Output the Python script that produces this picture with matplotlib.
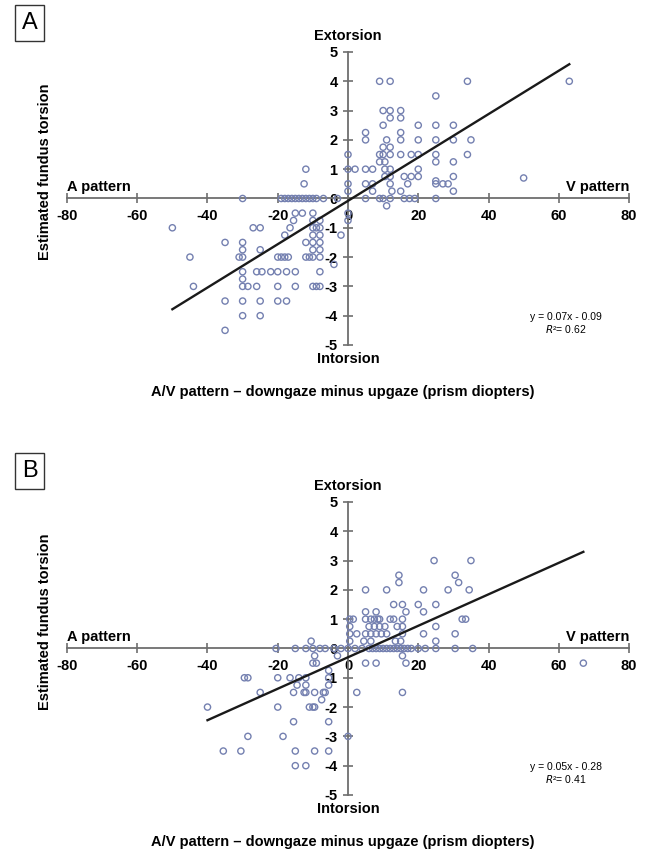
import numpy as np
import matplotlib
matplotlib.use("Agg")
import matplotlib.pyplot as plt

plt.rcParams['font.family'] = ['Liberation Sans', 'DejaVu Sans']
plt.rcParams['axes.unicode_minus'] = False

# ============================================================
# Data
# ============================================================
# Panel A: (A/V pattern, estimated fundus torsion)
a_x = [9, 12, 34, 63,
       25,
       10, 12, 15,
       12, 15,
       10, 20, 25, 30,
       5, 15,
       5, 11, 15, 20, 25, 30, 35,
       10, 12,
       0, 9, 10, 12, 15, 18, 20, 25, 34,
       9, 10.5, 25, 30,
       0, 2, 5, 7, 10.5, 12, 20,
       10.5, 12, 16, 18, 20, 30,
       50, 25,
       0, 5, 7, 12, 17, 25, 27, 28.5,
       0, 7, 12.5, 15, 30,
       -30, -19, -18, -17, -16, -15, -14, -13, -12, -11, -10, -9, -7, -3,
       5, 9, 10, 12, 16, 17.5, 19, 25,
       11, -12, -12.5,
       -15, -10, 0, -13,
       -15.5, -10, -8, 0,
       -50, -27, -25, -16.5, -10, -9, -8,
       -18, -2, -10, -8,
       -35, -30, -10, -8, -12,
       -30, -25, -10, -8,
       -45, -31, -30, -20, -19, -18, -17, -12, -11, -10, -8,
       -4,
       -30, -26, -24.5, -22, -20, -17.5, -15, -8,
       -30,
       -44, -30, -28.5, -26, -20, -15, -10, -9, -8,
       -35, -30, -25, -20, -17.5,
       -30, -25,
       -35]
a_y = [4, 4, 4, 4,
       3.5,
       3, 3, 3,
       2.75, 2.75,
       2.5, 2.5, 2.5, 2.5,
       2.25, 2.25,
       2, 2, 2, 2, 2, 2, 2,
       1.75, 1.75,
       1.5, 1.5, 1.5, 1.5, 1.5, 1.5, 1.5, 1.5, 1.5,
       1.25, 1.25, 1.25, 1.25,
       1, 1, 1, 1, 1, 1, 1,
       0.75, 0.75, 0.75, 0.75, 0.75, 0.75,
       0.7, 0.6,
       0.5, 0.5, 0.5, 0.5, 0.5, 0.5, 0.5, 0.5,
       0.25, 0.25, 0.25, 0.25, 0.25,
       0, 0, 0, 0, 0, 0, 0, 0, 0, 0, 0, 0, 0, 0,
       0, 0, 0, 0, 0, 0, 0, 0,
       -0.25, 1, 0.5,
       -0.5, -0.5, -0.5, -0.5,
       -0.75, -0.75, -0.75, -0.75,
       -1, -1, -1, -1, -1, -1, -1,
       -1.25, -1.25, -1.25, -1.25,
       -1.5, -1.5, -1.5, -1.5, -1.5,
       -1.75, -1.75, -1.75, -1.75,
       -2, -2, -2, -2, -2, -2, -2, -2, -2, -2, -2,
       -2.25,
       -2.5, -2.5, -2.5, -2.5, -2.5, -2.5, -2.5, -2.5,
       -2.75,
       -3, -3, -3, -3, -3, -3, -3, -3, -3,
       -3.5, -3.5, -3.5, -3.5, -3.5,
       -4, -4,
       -4.5]

# Panel B
b_x = [24.5, 35,
       14.5, 30.5,
       14.5, 31.5,
       5, 11, 21.5, 28.5, 34.5,
       13, 15.5, 20, 25,
       5, 8, 16.5, 21.5,
       0.5, 1.5, 5, 6.5, 7.5, 8.5, 9, 12, 13, 15.5, 32.5, 33.5,
       0.5, 6, 7.5, 9, 10.5, 14, 15.5, 25,
       0.5, 2.5, 5, 6.5, 8, 9.5, 11, 15.5, 21.5, 30.5,
       0.5, 4.5, 6.5, 13.5, 15, 25,
       -20.5, -15, -12, -10, -8, -6.5, -4, -2, 0, 2, 4, 6, 7, 8, 9, 10,
       11, 12, 13, 14, 15, 16, 17, 18, 20, 22, 25, 30.5, 35.5,
       -10.5,
       -9.5, -3, 15.5,
       -9, -10, 5, 8, 16.5, 67,
       -5.5,
       -29.5, -28.5, -20, -16.5, -14, -12, -5.5,
       -14.5, -12, -5.5,
       -25, -15.5, -12.5, -12, -9.5, -7, -6.5, 2.5, 15.5,
       -7.5,
       -40, -20, -11, -10, -9.5,
       -15.5, -5.5,
       -28.5, -18.5, 0,
       -35.5, -30.5, -15, -9.5, -5.5,
       -15, -12]
b_y = [3, 3,
       2.5, 2.5,
       2.25, 2.25,
       2, 2, 2, 2, 2,
       1.5, 1.5, 1.5, 1.5,
       1.25, 1.25, 1.25, 1.25,
       1, 1, 1, 1, 1, 1, 1, 1, 1, 1, 1, 1,
       0.75, 0.75, 0.75, 0.75, 0.75, 0.75, 0.75, 0.75,
       0.5, 0.5, 0.5, 0.5, 0.5, 0.5, 0.5, 0.5, 0.5, 0.5,
       0.25, 0.25, 0.25, 0.25, 0.25, 0.25,
       0, 0, 0, 0, 0, 0, 0, 0, 0, 0, 0, 0, 0, 0, 0, 0,
       0, 0, 0, 0, 0, 0, 0, 0, 0, 0, 0, 0, 0,
       0.25,
       -0.25, -0.25, -0.25,
       -0.5, -0.5, -0.5, -0.5, -0.5, -0.5,
       -0.75,
       -1, -1, -1, -1, -1, -1, -1,
       -1.25, -1.25, -1.25,
       -1.5, -1.5, -1.5, -1.5, -1.5, -1.5, -1.5, -1.5, -1.5,
       -1.75,
       -2, -2, -2, -2, -2,
       -2.5, -2.5,
       -3, -3, -3,
       -3.5, -3.5, -3.5, -3.5, -3.5,
       -4, -4]

# fitted lines as drawn in the figure
fit_a = (0.074, -0.08)
fit_b = (0.0537, -0.30)
eq_a = ["y = 0.07x - 0.09", "$R$\u00b2= 0.62"]
eq_b = ["y = 0.05x - 0.28", "$R$\u00b2= 0.41"]

x_ticks = list(range(-80, 81, 20))
y_ticks = list(range(-5, 6))

marker_col = '#7480b0'
axis_col = '#6e6e6e'


def draw_panel(ax, xs, ys, fit, eq_lines):
    ax.scatter(xs, ys, s=20, facecolors='none', edgecolors=marker_col,
               linewidths=1.0, zorder=3)

    # regression line across the data range
    x0, x1 = min(xs), max(xs)
    xx = np.array([x0, x1])
    ax.plot(xx, fit[0] * xx + fit[1], color='#1a1a1a', lw=1.7, zorder=4)

    ax.set_xlim(-80, 80)
    ax.set_ylim(-5, 5)
    ax.spines['left'].set_position(('data', 0))
    ax.spines['bottom'].set_position(('data', 0))
    ax.spines['top'].set_visible(False)
    ax.spines['right'].set_visible(False)
    for sp in ('left', 'bottom'):
        ax.spines[sp].set_color(axis_col)
        ax.spines[sp].set_linewidth(1.3)

    ax.set_xticks(x_ticks)
    ax.set_yticks(y_ticks)
    ax.tick_params(direction='inout', length=7, width=1.2, color=axis_col,
                   labelsize=10.5, pad=4)
    for lab in ax.get_xticklabels() + ax.get_yticklabels():
        lab.set_fontweight('bold')

    ax.text(0, 5.3, 'Extorsion', ha='center', va='bottom',
            fontsize=10.5, fontweight='bold', clip_on=False)
    ax.text(0, -5.25, 'Intorsion', ha='center', va='top',
            fontsize=10.5, fontweight='bold', clip_on=False)
    ax.text(-80, 0.15, 'A pattern', ha='left', va='bottom',
            fontsize=10.5, fontweight='bold')
    ax.text(80, 0.15, 'V pattern', ha='right', va='bottom',
            fontsize=10.5, fontweight='bold')

    ax.text(62, -4.03, eq_lines[0], ha='center', va='center', fontsize=7.5)
    ax.text(62, -4.45, eq_lines[1], ha='center', va='center', fontsize=7.5)

    ax.text(-1.5, -6.62, 'A/V pattern \u2013 downgaze minus upgaze (prism diopters)',
            ha='center', va='center', fontsize=10.5, fontweight='bold',
            clip_on=False)
    ax.text(-86.3, 0.9, 'Estimated fundus torsion', rotation=90,
            ha='center', va='center', fontsize=10.5, fontweight='bold',
            clip_on=False)


fig = plt.figure(figsize=(6.46, 8.55), dpi=100)

ax_a = fig.add_axes([0.1037, 0.5965, 0.870, 0.3427])
ax_b = fig.add_axes([0.1037, 0.0702, 0.870, 0.3427])

draw_panel(ax_a, a_x, a_y, fit_a, eq_a)
draw_panel(ax_b, b_x, b_y, fit_b, eq_b)

# panel letters in boxes
for letter, ypx in (('A', 23), ('B', 471)):
    fig.text(29.5 / 646, 1 - ypx / 855, letter, ha='center', va='center',
             fontsize=17,
             bbox=dict(boxstyle='square,pad=0.3', fc='white', ec='#333333',
                       lw=1.0))

fig.savefig('out.png', dpi=100)
